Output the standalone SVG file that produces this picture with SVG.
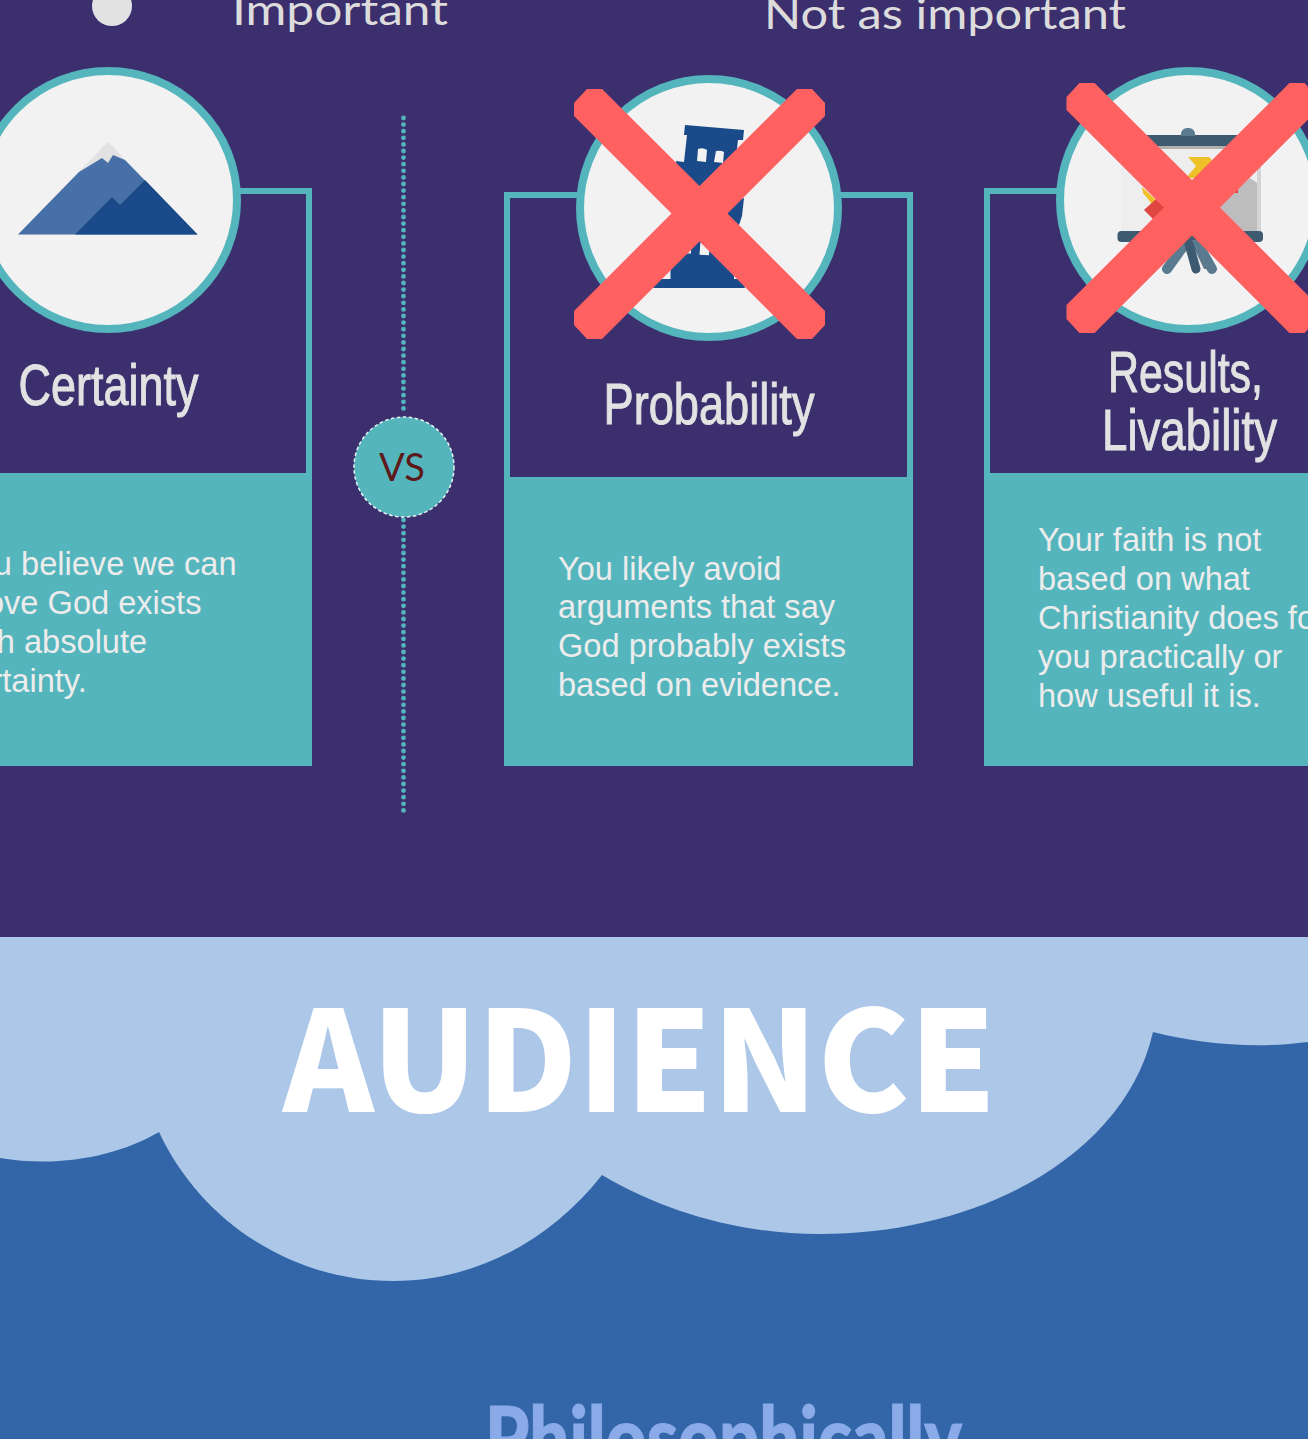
<svg xmlns="http://www.w3.org/2000/svg" width="1308" height="1439" viewBox="0 0 1308 1439">
<style>
.ring{fill:#f2f2f2;stroke:#55b5bd;stroke-width:8}
.frame{fill:none;stroke:#55b5bd;stroke-width:6}
.panel{fill:#55b5bd}
.title{font-family:"Liberation Sans",Arial,sans-serif;font-size:57px;fill:#e2e2e2;stroke:#e2e2e2;stroke-width:1}
.body{font-family:"Liberation Sans",Arial,sans-serif;font-size:32.6px;fill:#ececec}
.head{font-family:Lato,"Liberation Sans",sans-serif;font-size:43px;fill:#dcdcdc}
.navy{fill:#1a4a8a}
.x{fill:#ff6161}
.dots{fill:none;stroke:#55b5bd;stroke-width:4.800;stroke-linecap:round;stroke-dasharray:0 6.600}
</style>
<defs>
<polygon id="cross" points="587,89 602,89 699.500,186 797,89 812,89 825,103 825,116 727.500,213.500 825,311 825,325 812,339 797,339 699.500,241.500 602,339 587,339 574,325 574,311 671.500,213.500 574,116 574,103"/>
</defs>
<rect id="background" width="1308" height="937" fill="#3c2f6e"/>
<g id="legend-important">
<circle cx="112" cy="6" r="20" fill="#e2e2e2"/>
<text class="head" x="232" y="24.500" textLength="216" lengthAdjust="spacingAndGlyphs">Important</text>
</g>
<g id="legend-not-important">
<text class="head" x="764" y="29" textLength="362" lengthAdjust="spacingAndGlyphs">Not as important</text>
</g>
<g id="connectors">
<path class="dots" d="M403.500 118V415"/>
<path class="dots" d="M403.500 520V816"/>
</g>
<g id="vs">
<circle cx="404" cy="467" r="50" fill="#55b5bd" stroke="#e8f4f4" stroke-width="1.500" stroke-dasharray="3.500 2.500"/>
<text x="402" y="481" text-anchor="middle" font-family="Lato,'Liberation Sans',sans-serif" font-size="38" fill="#5c1a1a">VS</text>
</g>
<g id="certainty">
<path class="frame" d="M236 191H309V476H-10"/>
<rect class="panel" x="-10" y="473" width="322" height="293"/>
<circle class="ring" cx="108" cy="200" r="129"/>
<polygon points="108,141.700 18,234.500 197.500,234.500" fill="#e2e2e2"/>
<path d="M18 234.500L79 172L102 158L108 163L113 155L125 160L197.500 234.500Z" fill="#4870a8"/>
<path d="M75 234.500L112 197L120 205L145 180L197.500 234.500Z" class="navy"/>
<text class="title" x="18.500" y="404.500" textLength="180" lengthAdjust="spacingAndGlyphs">Certainty</text>
<text class="body" x="-43" y="575">You believe we can</text>
<text class="body" x="-43" y="614">prove God exists</text>
<text class="body" x="-43" y="653">with absolute</text>
<text class="body" x="-43" y="692">certainty.</text>
</g>
<g id="probability">
<path class="frame" d="M507 477V195H910V477"/>
<rect class="panel" x="504" y="477" width="409" height="289"/>
<circle class="ring" cx="709" cy="208" r="129"/>
<polygon class="navy" points="685,125 744,130 743,140 738,140 735,165 733,175 741,199 744,198 742,216 739,225 731,240 745,288 653,288 672,232 680,205 676,161 676,161 684,162 687,135 684,135"/>
<path d="M698 149q5-2 9 1l-1 12-9-1zM716 151q5-1 8 1l-1 11-9-1z" fill="#f2f2f2"/>
<rect x="700" y="243" width="9.500" height="12" fill="#f2f2f2" transform="rotate(4 705 248)"/>
<rect x="687" y="250" width="4" height="3.500" fill="#f2f2f2"/>
<rect x="660" y="265" width="10.500" height="14" fill="#f2f2f2"/>
<rect x="734" y="265" width="8" height="14" fill="#f2f2f2"/>
<use href="#cross" class="x"/>
<text class="title" x="603.500" y="423.500" textLength="211" lengthAdjust="spacingAndGlyphs">Probability</text>
<text class="body" x="558" y="580">You likely avoid</text>
<text class="body" x="558" y="618">arguments that say</text>
<text class="body" x="558" y="657">God probably exists</text>
<text class="body" x="558" y="696">based on evidence.</text>
</g>
<g id="results">
<path class="frame" d="M987 476V191H1070"/>
<rect class="panel" x="984" y="473" width="324" height="293"/>
<circle class="ring" cx="1189" cy="200" r="129"/>
<rect x="1121" y="146" width="138" height="86" fill="#eeeeee"/>
<polygon points="1218,205 1250,178 1257,183 1257,232 1190,232" fill="#bdbdbd"/>
<rect x="1257" y="146" width="4" height="86" fill="#d4d4d4"/>
<rect x="1158" y="145" width="100" height="4" fill="#b0b0ac"/>
<rect x="1140" y="135" width="100" height="11" fill="#3e5a70"/>
<path d="M1181 136v-2a6 6 0 0 1 6-6h2a6 6 0 0 1 6 6v2z" fill="#5a7a90"/>
<polygon points="1188,157 1209,157 1212,160 1198,178 1186,178 1196,166" fill="#eec128"/>
<polygon points="1142,187 1156,200 1152,204 1143,193" fill="#eec128"/>
<polygon points="1144,210 1156,199 1167,210 1155,221" fill="#e04640"/>
<polygon points="1232,190 1238,188 1238,193 1234,193" fill="#e04640"/>
<rect x="1117.500" y="231" width="145.500" height="11" rx="4" fill="#3e5a70"/>
<polygon points="1190,240 1200,240 1216,269 1204,269" fill="#667c8a"/>
<path d="M1185 244L1167 269" stroke="#5a7a90" stroke-width="10" stroke-linecap="round"/>
<path d="M1198 244L1212 269" stroke="#5a7a90" stroke-width="10" stroke-linecap="round"/>
<path d="M1189 244L1196 269" stroke="#3e5a70" stroke-width="9" stroke-linecap="round"/>
<use href="#cross" class="x" transform="translate(492.500 -6)"/>
<text class="title" x="1108" y="392" textLength="155" lengthAdjust="spacingAndGlyphs">Results,</text>
<text class="title" x="1102" y="450" textLength="175" lengthAdjust="spacingAndGlyphs">Livability</text>
<text class="body" x="1038" y="551">Your faith is not</text>
<text class="body" x="1038" y="590">based on what</text>
<text class="body" x="1038" y="629">Christianity does for</text>
<text class="body" x="1038" y="668">you practically or</text>
<text class="body" x="1038" y="707">how useful it is.</text>
</g>
<g id="audience">
<rect y="937" width="1308" height="502" fill="#3366a8"/>
<path d="M0 937H1308V1042C1255 1049 1200 1044 1153 1032C1125 1155 980 1234 820 1234C740 1234 665 1212 602 1175C550 1241 475 1281 393 1281C290 1281 200 1220 159 1132C118 1156 60 1168 0 1158Z" fill="#acc7e8"/>
<text x="283" y="1112" font-family="'Noto Sans CJK SC','Noto Sans',sans-serif" font-weight="900" font-size="140" fill="#ffffff" textLength="713" lengthAdjust="spacingAndGlyphs">AUDIENCE</text>
<text x="485" y="1468" font-family="Lato,'Noto Sans',sans-serif" font-weight="900" font-size="85" fill="#8aaae8" stroke="#8aaae8" stroke-width="1" textLength="477" lengthAdjust="spacingAndGlyphs">Philosophically</text>
</g>
</svg>
